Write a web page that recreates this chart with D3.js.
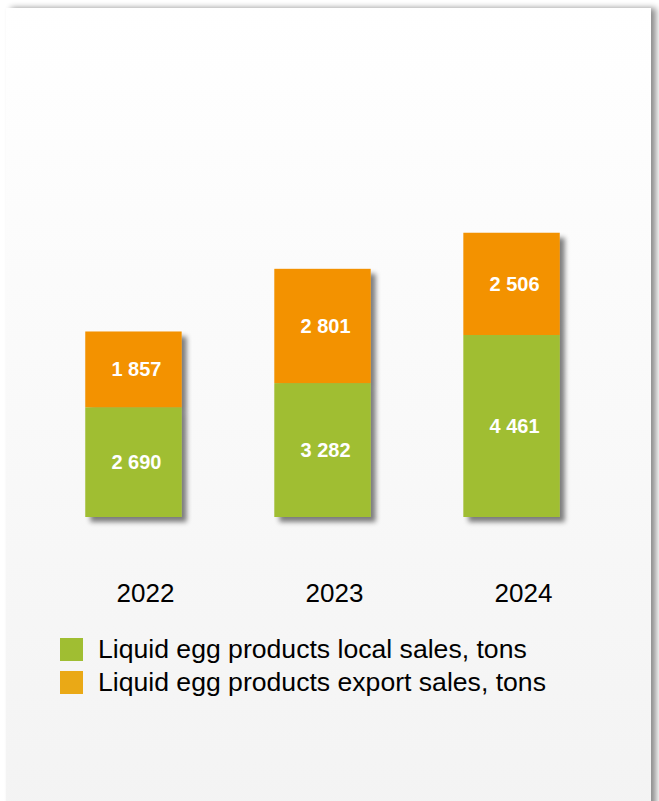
<!DOCTYPE html>
<html>
<head>
<meta charset="utf-8">
<script src="https://cdn.jsdelivr.net/npm/d3@7/dist/d3.min.js"></script>
<style>
  html, body { margin: 0; padding: 0; background: #ffffff; }
  svg { display: block; }
</style>
</head>
<body>
<script>
// Liquid egg products sales, tons
const years = ["2022", "2023", "2024"];
const localSales = [2690, 3282, 4461];
const exportSales = [1857, 2801, 2506];
const seriesNames = ["Liquid egg products local sales, tons", "Liquid egg products export sales, tons"];
const barColors = ["#A0BE32", "#F39200"];
const legendColors = ["#A0BE32", "#EAA916"];

const W = 659, H = 801;
const svg = d3.select("body").append("svg").attr("width", W).attr("height", H);
const defs = svg.append("defs");

// Card background gradient and shadows
const grad = defs.append("linearGradient").attr("id", "cardGrad")
  .attr("x1", 0).attr("y1", 0).attr("x2", 0).attr("y2", 1);
grad.append("stop").attr("offset", "0%").attr("stop-color", "#ffffff");
grad.append("stop").attr("offset", "100%").attr("stop-color", "#f3f3f3");

const cardShadow = defs.append("filter").attr("id", "cardShadow")
  .attr("x", "-5%").attr("y", "-5%").attr("width", "115%").attr("height", "115%");
cardShadow.append("feGaussianBlur").attr("in", "SourceAlpha").attr("stdDeviation", 3).attr("result", "b");
cardShadow.append("feOffset").attr("in", "b").attr("dx", 5).attr("dy", 0).attr("result", "o");
cardShadow.append("feComponentTransfer").attr("in", "o").attr("result", "s")
  .append("feFuncA").attr("type", "linear").attr("slope", 0.45);
const m1 = cardShadow.append("feMerge");
m1.append("feMergeNode").attr("in", "s");
m1.append("feMergeNode").attr("in", "SourceGraphic");

const barShadow = defs.append("filter").attr("id", "barShadow")
  .attr("x", "-20%").attr("y", "-20%").attr("width", "150%").attr("height", "150%");
barShadow.append("feGaussianBlur").attr("in", "SourceAlpha").attr("stdDeviation", 2.5).attr("result", "b");
barShadow.append("feOffset").attr("in", "b").attr("dx", 5).attr("dy", 5).attr("result", "o");
barShadow.append("feComponentTransfer").attr("in", "o").attr("result", "s")
  .append("feFuncA").attr("type", "linear").attr("slope", 0.5);
const m2 = barShadow.append("feMerge");
m2.append("feMergeNode").attr("in", "s");
m2.append("feMergeNode").attr("in", "SourceGraphic");

svg.append("rect")
  .attr("x", 6).attr("y", 8).attr("width", 645).attr("height", 820)
  .attr("fill", "url(#cardGrad)")
  .attr("filter", "url(#cardShadow)");

// Scales
const x = d3.scaleBand().domain(years).range([38, 607]).paddingInner(0.49).paddingOuter(0.25);
const y = d3.scaleLinear().domain([0, 7000]).range([517, 231.4]);

const data = years.map((yr, i) => ({ year: yr, local: localSales[i], export: exportSales[i] }));
const stack = d3.stack().keys(["local", "export"])(data);

const fmt = v => d3.format(",")(v).replace(/,/g, " ");

const bars = svg.append("g");
data.forEach((d, i) => {
  const g = bars.append("g").attr("filter", "url(#barShadow)");
  stack.forEach((s, k) => {
    const seg = s[i];
    g.append("rect")
      .attr("x", x(d.year))
      .attr("width", x.bandwidth())
      .attr("y", y(seg[1]))
      .attr("height", y(seg[0]) - y(seg[1]))
      .attr("fill", barColors[k]);
  });
});

// Value labels
stack.forEach((s, k) => {
  s.forEach((seg, i) => {
    svg.append("text")
      .attr("x", x(years[i]) + x.bandwidth() / 2 + 3)
      .attr("y", (y(seg[0]) + y(seg[1])) / 2)
      .attr("dy", "0.35em")
      .attr("text-anchor", "middle")
      .attr("fill", "#ffffff")
      .attr("font-family", "Liberation Sans, Arial, sans-serif")
      .attr("font-weight", "bold")
      .attr("font-size", 20)
      .text(fmt(seg[1] - seg[0]));
  });
});

// Category axis labels
const axis = d3.axisBottom(x).tickSize(0).tickPadding(0);
const ax = svg.append("g").attr("transform", "translate(12,583)").call(axis);
ax.select(".domain").remove();
ax.selectAll("text")
  .attr("dy", "0.72em")
  .attr("font-family", "Liberation Sans, Arial, sans-serif")
  .attr("font-size", 26)
  .attr("fill", "#000000");

// Legend
const legend = svg.append("g").attr("transform", "translate(60,638)");
seriesNames.forEach((name, i) => {
  const row = legend.append("g").attr("transform", `translate(0,${i * 33})`);
  row.append("rect").attr("width", 23).attr("height", 23).attr("fill", legendColors[i]);
  row.append("text")
    .attr("x", 38).attr("y", 10.5).attr("dy", "0.35em")
    .attr("font-family", "Liberation Sans, Arial, sans-serif")
    .attr("font-size", 26.6)
    .attr("fill", "#000000")
    .text(name);
});
</script>
</body>
</html>
